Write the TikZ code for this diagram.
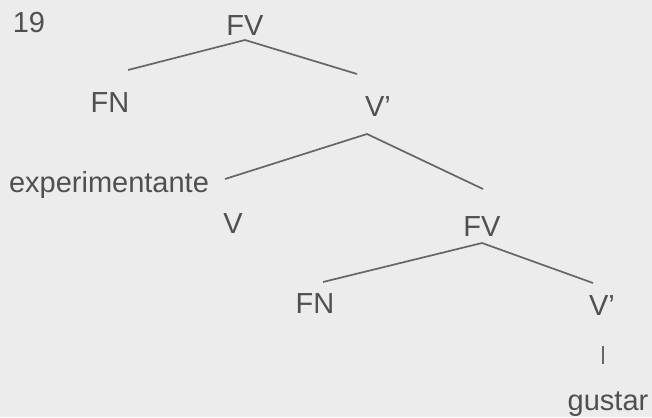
\documentclass[tikz,border=0pt]{standalone}
\usepackage{fontspec}
\setmainfont{Liberation Sans}
\definecolor{bgc}{HTML}{ECECEC}
\definecolor{txtc}{HTML}{505050}
\definecolor{linec}{HTML}{666666}
\begin{document}
\begin{tikzpicture}[x=1pt,y=-1pt,
  lbl/.style={anchor=base,inner sep=0pt,text=txtc,font=\fontsize{29}{32}\selectfont},
  branch/.style={draw=linec,line width=1.7pt}]
\fill[bgc] (0,0) rectangle (652,417);
\useasboundingbox (0,0) rectangle (652,417);
% labels
\node[lbl] (n19) at (29,33) {19};
\node[lbl] (fv1) at (245,36) {FV};
\node[lbl] (fn1) at (110,112) {FN};
\node[lbl] (vb1) at (378,117) {V’};
\node[lbl] (exp) at (109,192) {experimentante};
\node[lbl] (v) at (233,233) {V};
\node[lbl] (fv2) at (482,236) {FV};
\node[lbl] (fn2) at (315,313) {FN};
\node[lbl] (vb2) at (602,315) {V’};
\node[lbl] (gus) at (608,410) {gustar};
% branch points
\coordinate (a1) at (245,40);
\coordinate (b1) at (128,70);
\coordinate (c1) at (357,74);
\coordinate (a2) at (367,134);
\coordinate (b2) at (225,179);
\coordinate (c2) at (483,189);
\coordinate (a3) at (482,243);
\coordinate (b3) at (323,282);
\coordinate (c3) at (593,283);
\coordinate (a4) at (603,346);
\coordinate (b4) at (603,364);
% connectors
\draw[branch] (b1) -- (a1) -- (c1);
\draw[branch] (b2) -- (a2) -- (c2);
\draw[branch] (b3) -- (a3) -- (c3);
\draw[branch,line width=2.6pt] (a4) -- (b4);
\end{tikzpicture}
\end{document}
